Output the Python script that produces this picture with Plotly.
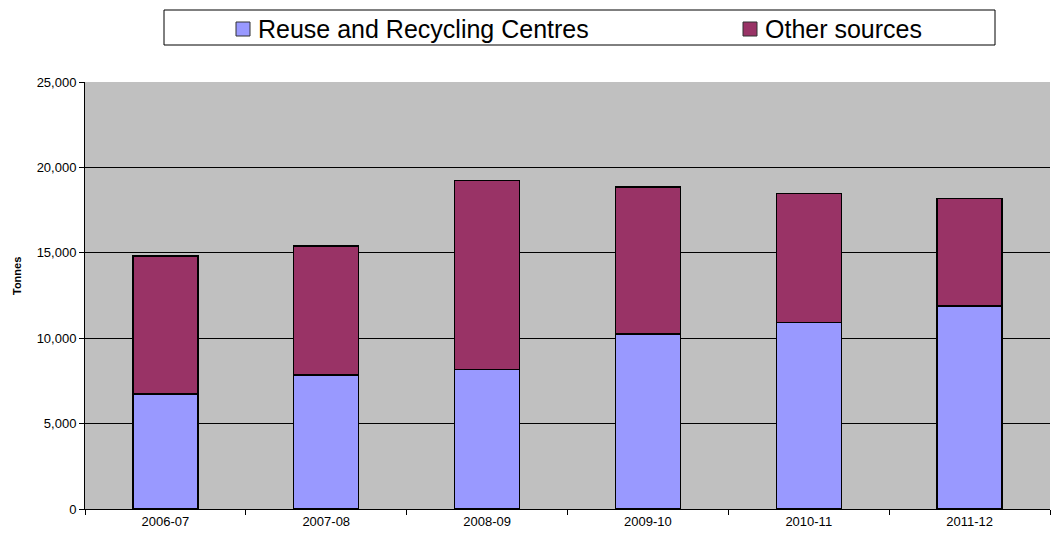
import plotly.graph_objects as go

years = ["2006-07", "2007-08", "2008-09", "2009-10", "2010-11", "2011-12"]
rrc_tonnes = [6740, 7850, 8150, 10250, 10910, 11890]
other_tonnes = [8070, 7550, 11100, 8610, 7545, 6275]

series_names = ["Reuse and Recycling Centres", "Other sources"]
series_colors = ["#9999FF", "#993366"]

# Plot area in pixels (used to place the legend box and axis title)
L, R, T, B = 85, 1050, 82, 509
W, H = 1063, 543


def px(x):
    return (x - L) / (R - L)


def py(y):
    return (B - y) / (B - T)


fig = go.Figure()
for name, vals, col in zip(series_names, [rrc_tonnes, other_tonnes], series_colors):
    fig.add_trace(go.Bar(
        x=years, y=vals, name=name,
        marker=dict(color=col, line=dict(color="#000000", width=1.3)),
    ))

# Legend box drawn above the plot area
shapes = [dict(
    type="rect", xref="paper", yref="paper",
    x0=px(164), x1=px(995), y0=py(45), y1=py(10),
    line=dict(color="#000000", width=1), fillcolor="#FFFFFF", layer="above",
)]
annotations = []
legend_x = [236, 743]
for lx, name, col in zip(legend_x, series_names, series_colors):
    shapes.append(dict(
        type="rect", xref="paper", yref="paper",
        x0=px(lx), x1=px(lx + 14), y0=py(36), y1=py(22),
        line=dict(color="#333333", width=1), fillcolor=col, layer="above",
    ))
    annotations.append(dict(
        xref="paper", yref="paper", x=px(lx + 20), y=py(29),
        xanchor="left", yanchor="middle", showarrow=False,
        text=name, font=dict(size=25, color="#000000"),
    ))

# Y-axis title
annotations.append(dict(
    xref="paper", yref="paper", x=px(17), y=py(276),
    xanchor="center", yanchor="middle", showarrow=False, textangle=-90,
    text="<b>Tonnes</b>", font=dict(size=11, color="#000000"),
))

fig.update_layout(
    barmode="stack",
    bargap=0.596,
    width=W, height=H,
    margin=dict(l=L, r=W - R, t=T, b=H - B, autoexpand=False),
    paper_bgcolor="#FFFFFF",
    plot_bgcolor="#C0C0C0",
    font=dict(family="Arial, Liberation Sans, sans-serif", color="#000000", size=13),
    showlegend=False,
    shapes=shapes,
    annotations=annotations,
)

fig.update_xaxes(
    type="category",
    showline=True, linecolor="#000000", linewidth=1,
    ticks="outside", tickson="boundaries", ticklen=5, tickcolor="#000000",
    showgrid=False,
    tickfont=dict(size=13),
)
fig.update_yaxes(
    range=[0, 25000], dtick=5000, tickformat=",",
    showline=True, linecolor="#000000", linewidth=1,
    ticks="outside", ticklen=5, tickcolor="#000000",
    showgrid=True, gridcolor="#000000", gridwidth=1,
    zeroline=False,
    tickfont=dict(size=13),
)

fig.write_html("out.html")
